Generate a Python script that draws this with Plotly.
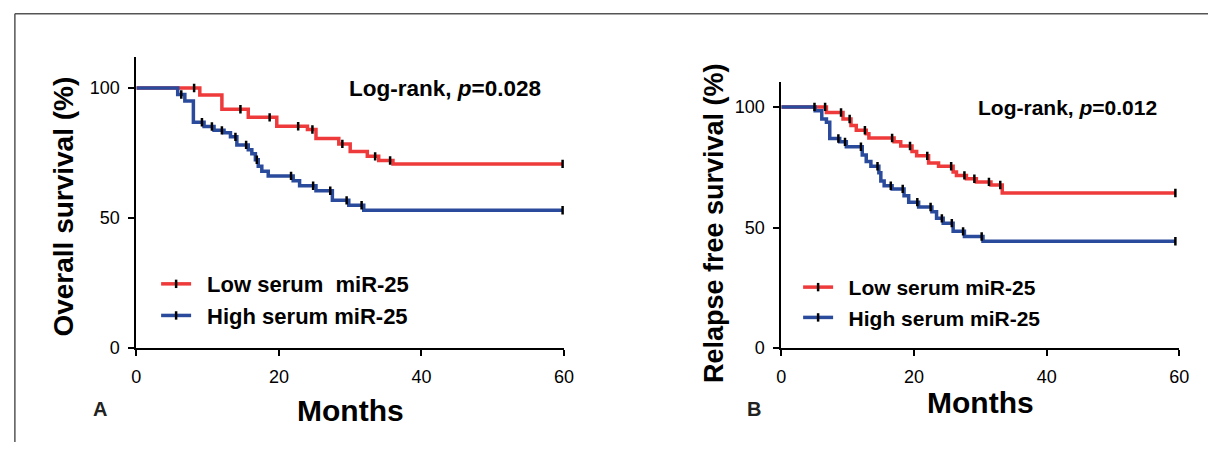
import plotly.graph_objects as go

W, H = 1218, 452

# ---------------- DATA ----------------
# Panel A: Overall survival
a_low_times = [8.9, 12.0, 15.7, 19.7, 24.0, 25.2, 28.4, 30.0, 32.4, 34.0, 36.0]
a_low_surv = [97.3, 91.8, 88.7, 85.3, 84.0, 80.6, 78.5, 75.6, 73.7, 72.1, 70.8]
a_low_censor = [8.1, 14.6, 18.7, 22.7, 24.7, 28.9, 33.5, 35.6, 59.8]

a_high_times = [5.8, 6.8, 8.0, 9.5, 10.9, 12.3, 13.2, 14.1, 15.7, 16.2, 16.7, 17.1,
                17.6, 18.5, 22.0, 22.9, 25.2, 27.5, 29.8, 31.9]
a_high_surv = [97.5, 95.0, 86.8, 85.2, 83.7, 82.8, 81.2, 78.1, 76.2, 74.7, 72.4, 69.9,
               68.0, 66.2, 64.3, 62.4, 60.5, 56.8, 54.9, 53.0]
a_high_censor = [6.3, 9.2, 10.6, 12.0, 13.9, 15.4, 16.9, 21.7, 24.8, 27.2, 29.5, 31.6, 59.8]

# Panel B: Relapse free survival
b_low_times = [6.8, 9.3, 10.5, 11.3, 12.8, 13.2, 17.0, 18.0, 19.7, 20.4, 22.2, 23.7,
               25.9, 26.4, 27.9, 29.4, 31.6, 33.3]
b_low_surv = [97.7, 95.0, 92.3, 90.3, 88.9, 87.1, 85.5, 83.8, 81.5, 79.7, 76.7, 75.4,
              73.0, 71.6, 70.2, 68.9, 67.6, 64.3]
b_low_censor = [6.6, 9.0, 10.3, 12.6, 16.7, 19.4, 22.0, 25.6, 27.6, 29.1, 31.3, 33.0, 59.4]

b_high_times = [5.1, 6.1, 6.8, 7.3, 8.8, 9.8, 12.2, 12.8, 13.5, 14.7, 15.0, 15.5, 16.7,
                18.5, 19.2, 20.7, 22.7, 23.4, 24.4, 25.9, 27.6, 30.4]
b_high_surv = [98.4, 95.0, 93.6, 86.9, 85.5, 83.5, 80.1, 77.4, 75.4, 72.7, 69.3, 67.3, 66.0,
               63.2, 60.5, 58.5, 56.5, 53.8, 51.8, 48.4, 46.3, 44.3]
b_high_censor = [5.0, 8.6, 9.6, 12.0, 14.5, 16.5, 18.3, 20.5, 22.5, 24.2, 25.7, 27.4, 30.2, 59.4]

series_names = ["Low serum  miR-25", "High serum miR-25"]
series_names_b = ["Low serum miR-25", "High serum miR-25"]
x_ticks = [0, 20, 40, 60]
y_ticks = [0, 50, 100]
pvals = ["0.028", "0.012"]
y_titles = ["Overall survival (%)", "Relapse free survival (%)"]
panel_labels = ["A", "B"]

RED = "#EE3A3A"
BLUE = "#2A4B9C"
FONT = "Liberation Sans, Arial, sans-serif"


def px(x):
    return x / W


def py(y):
    return 1 - y / H


def km_path(times, surv, end):
    xs = [0] + list(times) + [end]
    ys = [100] + list(surv) + [surv[-1]]
    return xs, ys


def surv_at(times, surv, t):
    s = 100
    for ti, si in zip(times, surv):
        if ti <= t:
            s = si
    return s


fig = go.Figure()

panels = [
    ("x", "y", "legend", [(a_low_times, a_low_surv, a_low_censor, RED, series_names[0]),
                          (a_high_times, a_high_surv, a_high_censor, BLUE, series_names[1])]),
    ("x2", "y2", "legend2", [(b_low_times, b_low_surv, b_low_censor, RED, series_names_b[0]),
                             (b_high_times, b_high_surv, b_high_censor, BLUE, series_names_b[1])]),
]

for xa, ya, leg, curves in panels:
    for times, surv, cens, col, name in curves:
        xs, ys = km_path(times, surv, cens[-1])
        fig.add_trace(go.Scatter(x=xs, y=ys, mode="lines", line=dict(color=col, width=3.5, shape="hv"),
                                 xaxis=xa, yaxis=ya, showlegend=False, hoverinfo="skip"))
        cy = [surv_at(times, surv, t) for t in cens]
        fig.add_trace(go.Scatter(x=cens, y=cy, mode="markers",
                                 marker=dict(symbol="line-ns", size=6, color="black",
                                             line=dict(color="black", width=2.5)),
                                 xaxis=xa, yaxis=ya, showlegend=False, hoverinfo="skip"))
    for times, surv, cens, col, name in curves:
        fig.add_trace(go.Scatter(x=[None], y=[None], mode="lines+markers", name="\u2002" + name,
                                 line=dict(color=col, width=3.5),
                                 marker=dict(symbol="line-ns", size=6, color="black",
                                             line=dict(color="black", width=2.5)),
                                 xaxis=xa, yaxis=ya, legend=leg))

axis_common = dict(showline=True, linecolor="black", linewidth=2, ticks="outside", ticklen=6,
                   tickwidth=2, tickcolor="black", showgrid=False, zeroline=False,
                   tickfont=dict(family=FONT, size=18, color="black"))

fig.update_layout(
    width=W, height=H, autosize=False,
    margin=dict(l=0, r=0, t=0, b=0),
    paper_bgcolor="white", plot_bgcolor="white",
    xaxis=dict(domain=[px(133), px(566)], range=[0, 60], tickvals=x_ticks, anchor="y",
               ticklabelstandoff=5, **axis_common),
    yaxis=dict(domain=[py(356), py(58)], range=[0, 112], tickvals=y_ticks, anchor="x",
               ticklabelstandoff=5, **axis_common),
    xaxis2=dict(domain=[px(786), px(1189)], range=[0, 60], tickvals=x_ticks, anchor="y2",
                ticklabelstandoff=5, **axis_common),
    yaxis2=dict(domain=[py(356), py(83.4)], range=[0, 110.5], tickvals=y_ticks, anchor="x2",
                ticklabelstandoff=5, **axis_common),
    legend=dict(x=px(153), y=py(269), xanchor="left", yanchor="top", bgcolor="rgba(0,0,0,0)",
                font=dict(family=FONT, size=22, color="black", weight="bold"), itemwidth=30,
                tracegroupgap=0),
    legend2=dict(x=px(803), y=py(273), xanchor="left", yanchor="top", bgcolor="rgba(0,0,0,0)",
                 font=dict(family=FONT, size=21, color="black", weight="bold"), itemwidth=30,
                 tracegroupgap=0),
    showlegend=True,
)


def note(x, y, text, size, angle=0, color="black"):
    return dict(x=px(x), y=py(y), text=text, textangle=angle, showarrow=False,
                xref="paper", yref="paper", xanchor="center", yanchor="middle",
                font=dict(family=FONT, size=size, color=color))


ann = [
    note(59, 211, "<b>%s</b>" % y_titles[0], 28, -90),
    note(718, 228, "<b>%s</b>" % y_titles[1], 27, -90),
    note(349.5, 420, "<b>Months</b>", 30),
    note(987.5, 412, "<b>Months</b>", 30),
    note(96, 418, "<b>%s</b>" % panel_labels[0], 20, 0, "#222"),
    note(758, 418, "<b>%s</b>" % panel_labels[1], 20, 0, "#222"),
    note(445, 90, "<b>Log-rank, <i>p</i>=%s</b>" % pvals[0], 22.5),
    note(1076, 110, "<b>Log-rank, <i>p</i>=%s</b>" % pvals[1], 21),
]
fig.update_layout(annotations=ann)

# outer frame (left and top edges only)
fig.add_shape(type="line", xref="paper", yref="paper", x0=px(10), x1=px(10), y0=0, y1=py(14),
              line=dict(color="#555555", width=1.5), layer="below")
fig.add_shape(type="line", xref="paper", yref="paper", x0=px(10), x1=1, y0=py(14), y1=py(14),
              line=dict(color="#555555", width=1.5), layer="below")

fig.write_html("out.html", config={"displayModeBar": False},
               post_script="document.body.style.margin='0';document.body.style.overflow='hidden';")
